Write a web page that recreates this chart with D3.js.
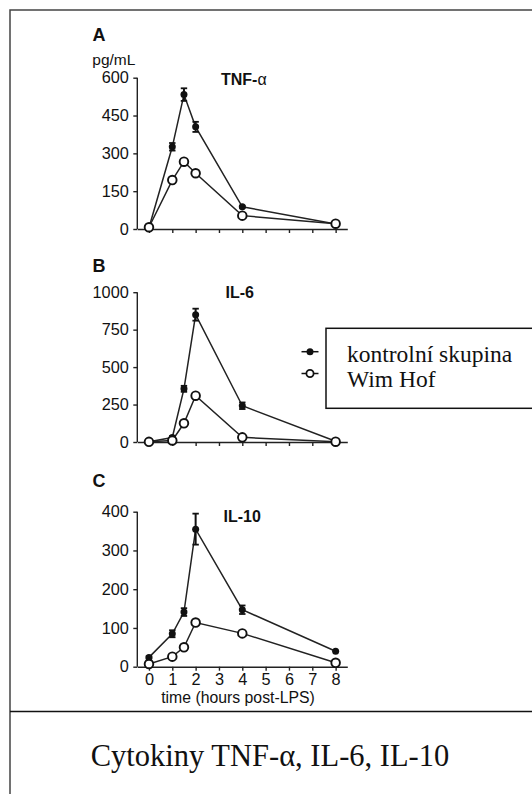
<!DOCTYPE html>
<html><head><meta charset="utf-8">
<script src="https://cdn.jsdelivr.net/npm/d3@7"></script>
<style>
html,body{margin:0;padding:0;background:#fff;}
svg{display:block;}
.axis path,.axis line{stroke:#222;stroke-width:1.4;}
.axis text{font-family:"Liberation Sans",Arial,sans-serif;font-size:16.3px;fill:#111;}
</style></head>
<body>
<script>
// ---- data ----
const hours = [0, 1, 1.5, 2, 4, 8];
const xTicks = [0, 1, 2, 3, 4, 5, 6, 7, 8];

const tnfControl = [5, 326, 533, 405, 88, 20];
const tnfControlErr = [0, 15, 25, 20, 4, 2];
const tnfWimHof = [7, 194, 267, 221, 53, 21];

const il6Control = [2, 30, 355, 850, 242, 5];
const il6ControlErr = [0, 10, 20, 40, 22, 0];
const il6WimHof = [1, 10, 125, 309, 31, 2];

const il10Control = [24, 85, 141, 355, 147, 40];
const il10ControlErr = [3, 9, 10, 40, 11, 2];
const il10WimHof = [7, 26, 50, 114, 86, 10];

const tnfTicks = [0, 150, 300, 450, 600];
const il6Ticks = [0, 250, 500, 750, 1000];
const il10Ticks = [0, 100, 200, 300, 400];

const legendLabels = ["kontrolní skupina", "Wim Hof"];
const caption = "Cytokiny TNF-α, IL-6, IL-10";

// ---- drawing ----
const W = 532, H = 794;
const svg = d3.select("body").append("svg").attr("width", W).attr("height", H);

// outer frame (left and top; extends beyond the picture)
svg.append("path").attr("d", "M10,800 L10,10 L540,10").attr("fill", "none")
  .attr("stroke", "#444").attr("stroke-width", 1.5);
svg.append("line").attr("x1", 10).attr("x2", 540).attr("y1", 711.5).attr("y2", 711.5)
  .attr("stroke", "#111").attr("stroke-width", 1.5);

const x = d3.scaleLinear().domain([-0.5, 8.5]).range([137.3, 347.3]);

const panels = [
  {letter: "A", title: "TNF-", ctrl: tnfControl, err: tnfControlErr, wh: tnfWimHof, ticks: tnfTicks, y0: 229, y1: 77.7, letterY: 40.5, titleX: 221, titleY: 84.5, titleSub: "α", showX: false},
  {letter: "B", title: "IL-6", ctrl: il6Control, err: il6ControlErr, wh: il6WimHof, ticks: il6Ticks, y0: 442, y1: 292.2, letterY: 271.5, titleX: 225.5, titleY: 298, showX: false},
  {letter: "C", title: "IL-10", ctrl: il10Control, err: il10ControlErr, wh: il10WimHof, ticks: il10Ticks, y0: 666.7, y1: 511.7, letterY: 486.5, titleX: 223.5, titleY: 521.5, showX: true}
];

panels.forEach(p => {
  const tks = p.ticks;
  const y = d3.scaleLinear().domain([tks[0], tks[tks.length - 1]]).range([p.y0, p.y1]);
  const g = svg.append("g");

  g.append("text").attr("x", 92.5).attr("y", p.letterY).text(p.letter)
    .attr("font-family", "Liberation Sans, Arial, sans-serif").attr("font-weight", "bold")
    .attr("font-size", 18).attr("fill", "#111");

  const t = g.append("text").attr("x", p.titleX).attr("y", p.titleY)
    .attr("font-family", "Liberation Sans, Arial, sans-serif").attr("font-size", 16).attr("fill", "#111");
  t.append("tspan").attr("font-weight", "bold").text(p.title);
  if (p.titleSub) t.append("tspan").attr("font-weight", "normal").text(p.titleSub);

  const ya = g.append("g").attr("class", "axis").attr("transform", `translate(${x(-0.5)},0)`)
    .call(d3.axisLeft(y).tickValues(tks).tickSize(4).tickSizeOuter(0).tickPadding(4.5).tickFormat(d3.format("d")));
  ya.select(".domain").attr("d", `M0,${y(tks[0])}V${y(tks[tks.length - 1])}`);

  const xa = g.append("g").attr("class", "axis").attr("transform", `translate(0,${y(0)})`)
    .call(d3.axisBottom(x).tickValues(xTicks).tickSize(4).tickSizeOuter(0).tickPadding(3));
  if (!p.showX) xa.selectAll("text").remove();

  const line = d3.line().x((d, i) => x(hours[i])).y(d => y(d));

  g.append("path").datum(p.wh).attr("d", line).attr("fill", "none").attr("stroke", "#222").attr("stroke-width", 1.5);
  g.append("path").datum(p.ctrl).attr("d", line).attr("fill", "none").attr("stroke", "#222").attr("stroke-width", 1.5);

  // error bars (control)
  const idx = d3.range(hours.length).filter(i => p.err[i] > 2);
  const eb = g.append("g").selectAll("g").data(idx).join("g");
  eb.append("line")
    .attr("x1", i => x(hours[i])).attr("x2", i => x(hours[i]))
    .attr("y1", i => y(p.ctrl[i] + p.err[i])).attr("y2", i => y(p.ctrl[i] - p.err[i]))
    .attr("stroke", "#111").attr("stroke-width", 2);
  [1, -1].forEach(s => {
    eb.append("line")
      .attr("x1", i => x(hours[i]) - 3.2).attr("x2", i => x(hours[i]) + 3.2)
      .attr("y1", i => y(p.ctrl[i] + s * p.err[i])).attr("y2", i => y(p.ctrl[i] + s * p.err[i]))
      .attr("stroke", "#111").attr("stroke-width", 1.8);
  });

  g.append("g").selectAll("circle").data(p.ctrl).join("circle")
    .attr("cx", (d, i) => x(hours[i])).attr("cy", d => y(d)).attr("r", 3.5).attr("fill", "#111");
  g.append("g").selectAll("circle").data(p.wh).join("circle")
    .attr("cx", (d, i) => x(hours[i])).attr("cy", d => y(d)).attr("r", 4.3)
    .attr("fill", "#fff").attr("stroke", "#111").attr("stroke-width", 1.9);

  if (p.letter === "A") {
    g.append("text").attr("x", 92.3).attr("y", 65).text("pg/mL")
      .attr("font-family", "Liberation Sans, Arial, sans-serif").attr("font-size", 15.5).attr("fill", "#111");
  }
  if (p.showX) {
    g.append("text").attr("x", 238).attr("y", 702.5).attr("text-anchor", "middle").text("time (hours post-LPS)")
      .attr("font-family", "Liberation Sans, Arial, sans-serif").attr("font-size", 15.8).attr("fill", "#111");
  }
});

// legend
const lg = svg.append("g");
lg.append("rect").attr("x", 326).attr("y", 328.3).attr("width", 230).attr("height", 80)
  .attr("fill", "#fff").attr("stroke", "#111").attr("stroke-width", 1.5);
const legY = [351.7, 373.5];
legendLabels.forEach((lab, i) => {
  lg.append("line").attr("x1", 301.5).attr("x2", 318.5).attr("y1", legY[i]).attr("y2", legY[i])
    .attr("stroke", "#111").attr("stroke-width", 1.5);
  lg.append("circle").attr("cx", 310).attr("cy", legY[i]).attr("r", i === 0 ? 3.5 : 3.6)
    .attr("fill", i === 0 ? "#111" : "#fff").attr("stroke", "#111").attr("stroke-width", i === 0 ? 0 : 1.8);
  lg.append("text").attr("x", 347).attr("y", [362.3, 386.7][i]).text(lab)
    .attr("font-family", "Liberation Serif, Times New Roman, serif").attr("font-size", 23.5).attr("fill", "#111");
});

svg.append("text").attr("x", 270).attr("y", 766).attr("text-anchor", "middle").text(caption)
  .attr("font-family", "Liberation Serif, Times New Roman, serif").attr("font-size", 30.5).attr("fill", "#111");
</script>
</body></html>
